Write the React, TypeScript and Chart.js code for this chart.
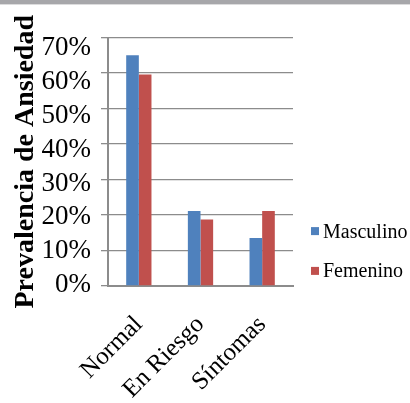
import React, { useEffect, useRef } from 'react';
import { Chart, registerables } from 'chart.js';

Chart.register(...registerables);

const categories = ['Normal', 'En Riesgo', 'Síntomas'];
const seriesNames = ['Masculino', 'Femenino'];
const masculino = [0.65, 0.211, 0.135];
const femenino = [0.596, 0.187, 0.211];
const yTickValues = [0, 0.1, 0.2, 0.3, 0.4, 0.5, 0.6, 0.7];
const seriesColors = ['#4f81bd', '#c0504d'];
const yTitle = 'Prevalencia de Ansiedad';

const FONT = '"Liberation Serif", "Times New Roman", serif';
const GRID = '#8c8c8c';

export default function App() {
  const ref = useRef<HTMLCanvasElement>(null);

  useEffect(() => {
    const canvas = ref.current;
    if (!canvas) return;
    let chart: any = null;
    let cancelled = false;

    const topBar = {
      id: 'topBar',
      beforeDraw(c: any) {
        const ctx = c.ctx;
        ctx.save();
        ctx.fillStyle = '#a7a7aa';
        ctx.fillRect(0, 0, c.width, 4.4);
        ctx.restore();
      },
    };

    const sideLegend = {
      id: 'sideLegend',
      afterDraw(c: any) {
        const ctx = c.ctx;
        const x0 = c.chartArea.right + 18;
        ctx.save();
        ctx.font = '20px ' + FONT;
        ctx.textBaseline = 'alphabetic';
        ctx.textAlign = 'left';
        c.data.datasets.forEach((ds: any, i: number) => {
          const base = 237.5 + i * 39.8;
          ctx.fillStyle = ds.backgroundColor;
          ctx.fillRect(x0, base - 10.4, 8, 8);
          ctx.fillStyle = '#000';
          ctx.fillText(ds.label, x0 + 12, base);
        });
        ctx.restore();
      },
    };

    const build = () => {
      if (cancelled) return;
      chart = new Chart(canvas, {
        type: 'bar',
        data: {
          labels: categories,
          datasets: [
            {
              label: seriesNames[0],
              data: masculino,
              backgroundColor: seriesColors[0],
              borderWidth: 0,
              yAxisID: 'y',
            },
            {
              label: seriesNames[1],
              data: femenino,
              backgroundColor: seriesColors[1],
              borderWidth: 0,
              yAxisID: 'y',
            },
          ],
        },
        options: {
          responsive: false,
          animation: false,
          layout: { padding: { top: 37.5, right: 117, left: 0, bottom: 0 } },
          datasets: {
            bar: { categoryPercentage: 0.41, barPercentage: 1.0 },
          },
          plugins: {
            legend: { display: false },
            tooltip: { enabled: false },
            title: { display: false },
          },
          scales: {
            x: {
              type: 'category',
              grid: { display: false, drawTicks: false },
              border: { display: true, color: GRID, width: 2 },
              ticks: {
                color: '#000',
                font: { family: FONT, size: 25 },
                minRotation: 45,
                maxRotation: 45,
                padding: 24,
                autoSkip: false,
              },
              afterFit: (s: any) => {
                s.height = 117;
              },
            },
            y: {
              type: 'linear',
              position: 'left',
              weight: 0,
              min: 0,
              max: 0.7,
              afterBuildTicks: (s: any) => {
                s.ticks = yTickValues.map((v) => ({ value: v }));
              },
              grid: { color: GRID, lineWidth: 1.3, tickLength: 7, drawTicks: true },
              border: { display: true, color: GRID, width: 2 },
              ticks: { display: false, autoSkip: false },
              afterFit: (s: any) => {
                s.width = 7;
              },
            },
            yLab: {
              type: 'linear',
              position: 'left',
              weight: 1,
              min: -0.003,
              max: 0.731,
              afterBuildTicks: (s: any) => {
                s.ticks = yTickValues.map((v) => ({ value: v }));
              },
              grid: { display: false, drawTicks: false },
              border: { display: false },
              ticks: {
                color: '#000',
                font: { family: FONT, size: 27 },
                padding: 10,
                autoSkip: false,
                callback: (v: any) => Math.round(Number(v) * 100) + '%',
              },
              title: {
                display: true,
                text: yTitle,
                color: '#000',
                font: { family: FONT, size: 28, weight: 'bold' },
                padding: { top: 9, bottom: 0 },
              },
              afterFit: (s: any) => {
                s.width = 101;
              },
            },
          },
        } as any,
        plugins: [topBar, sideLegend],
      });
    };

    const fonts: any = (document as any).fonts;
    if (fonts && fonts.load) {
      Promise.all([
        fonts.load('20px "Liberation Serif"'),
        fonts.load('bold 28px "Liberation Serif"'),
      ])
        .catch(() => null)
        .then(build);
    } else {
      build();
    }

    return () => {
      cancelled = true;
      if (chart) chart.destroy();
    };
  }, []);

  return (
    <div
      style={{
        position: 'fixed',
        left: 0,
        top: 0,
        width: 410,
        height: 403,
        background: '#fff',
        overflow: 'hidden',
      }}
    >
      <canvas ref={ref} width={410} height={403} style={{ display: 'block' }} />
    </div>
  );
}
